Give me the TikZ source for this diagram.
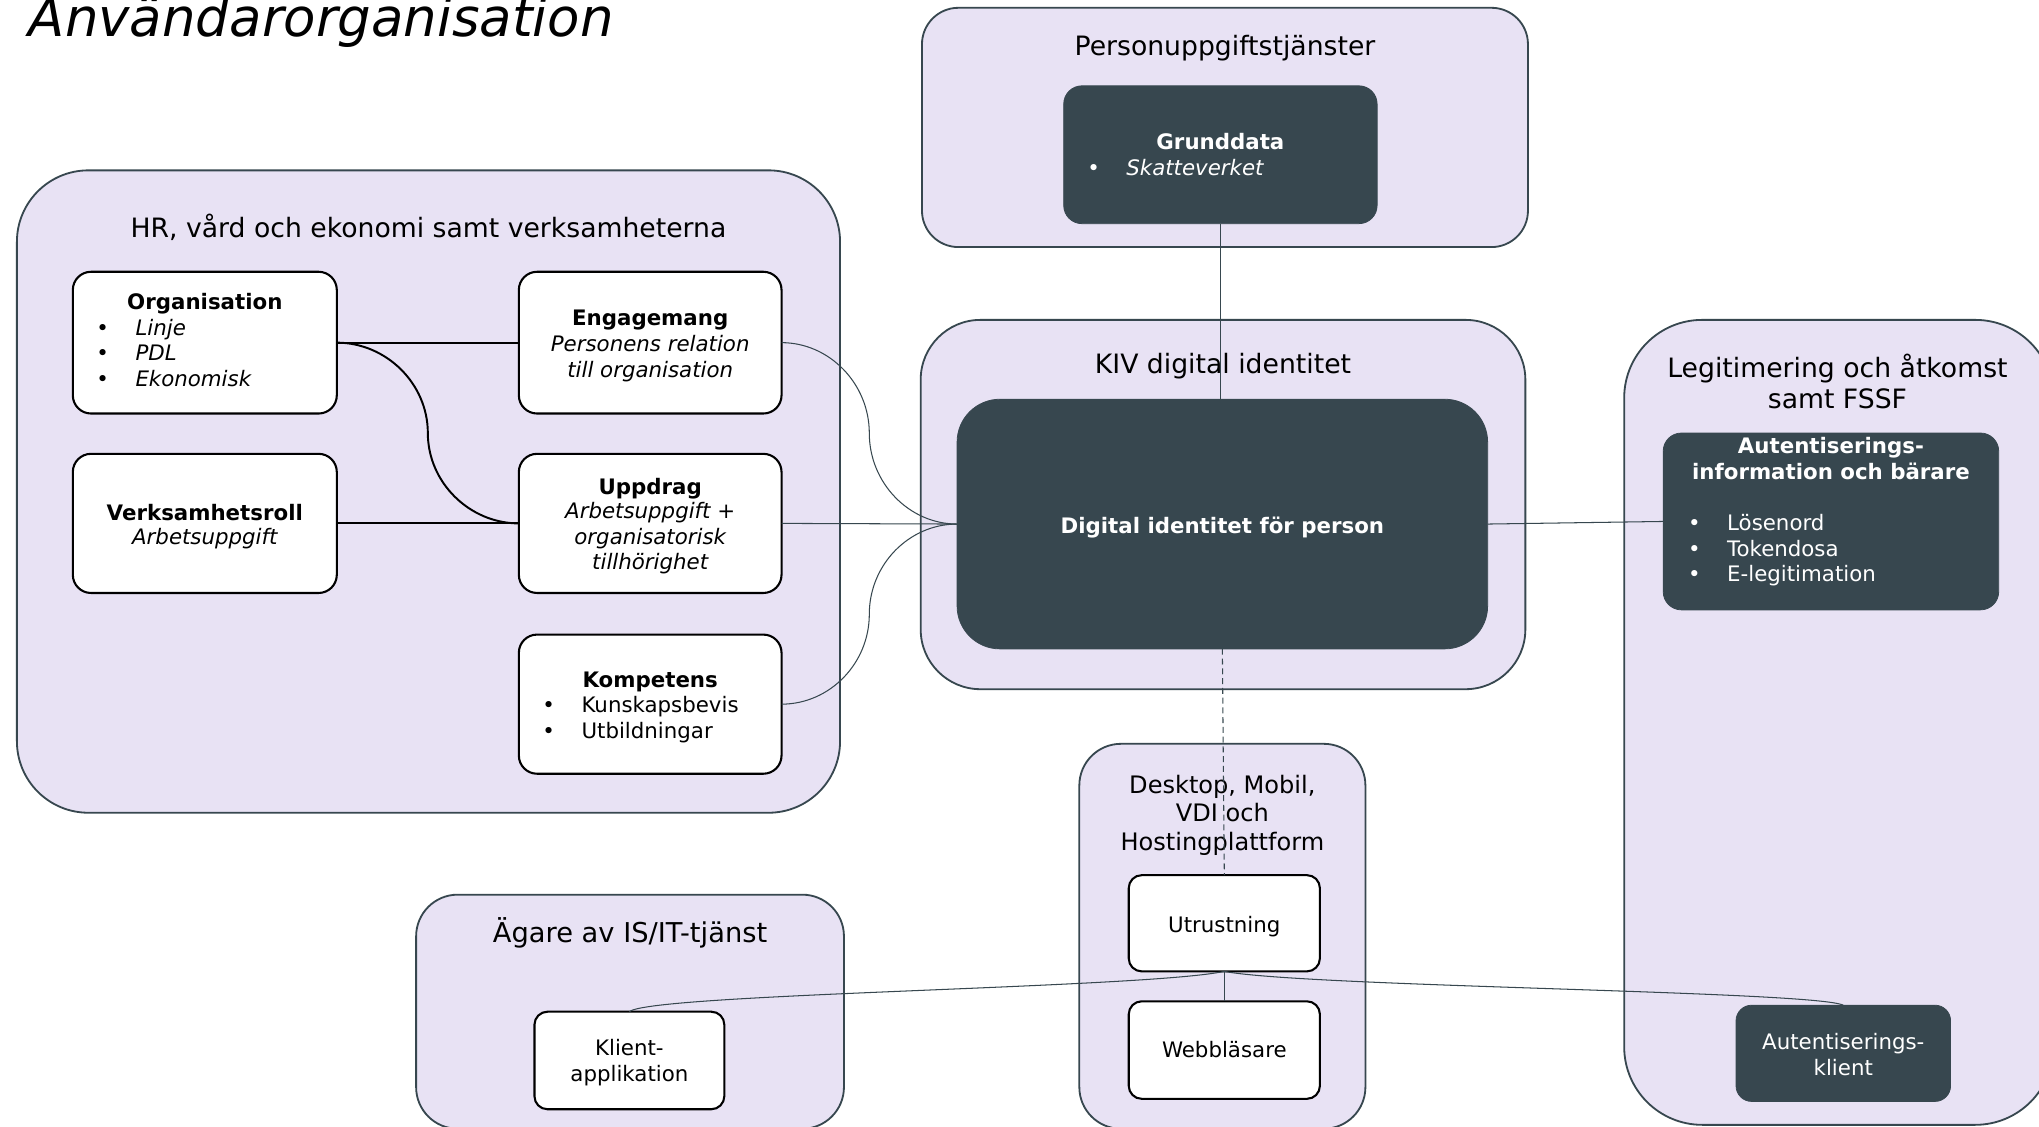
\documentclass[tikz,border=0pt]{standalone}
\usepackage{fontspec}
\setmainfont{DejaVu Sans}
\usetikzlibrary{calc}
\definecolor{lav}{HTML}{E8E2F4}
\definecolor{slate}{HTML}{37474F}

\tikzset{
  group/.style={draw=slate, fill=lav, line width=1.4pt, inner sep=0pt, outer sep=0pt},
  wbox/.style={draw=black, fill=white, line width=1.6pt, rounded corners=12pt, inner sep=0pt, outer sep=0pt},
  dbox/.style={fill=slate, draw=slate, line width=0.6pt, rounded corners=14pt, inner sep=0pt, outer sep=0pt},
  gtitle/.style={anchor=base, font=\fontsize{20.5}{24}\selectfont, inner sep=0pt},
  btxt/.style={anchor=base, font=\fontsize{16.4}{19.5}\selectfont, inner sep=0pt},
  ltxt/.style={anchor=base west, font=\fontsize{16.4}{19.5}\selectfont, inner sep=0pt},
  link/.style={draw=slate, line width=0.8pt},
  blink/.style={draw=black, line width=1.5pt},
}

\begin{document}
\begin{tikzpicture}[x=1pt,y=-1pt]
\useasboundingbox (0,0) rectangle (1568,866);
\clip (0,0) rectangle (1568,866);
\fill[white] (0,0) rectangle (1568,866);

% heading
\node[anchor=base west, inner sep=0pt, font=\fontsize{40.7}{48}\selectfont\itshape] (head) at (22,28) {Användarorganisation};

% groups
\node[group, rounded corners=55pt, minimum width=633pt, minimum height=494pt] (hr) at (329.5,378) {};
\node[group, rounded corners=28pt, minimum width=466pt, minimum height=184pt] (pers) at (942,98) {};
\node[group, rounded corners=46pt, minimum width=465pt, minimum height=284pt] (kiv) at (940.5,388) {};
\node[group, rounded corners=60pt, minimum width=330pt, minimum height=619pt] (legit) at (1414,555.5) {};
\node[group, rounded corners=32pt, minimum width=220pt, minimum height=296pt] (desk) at (940,720) {};
\node[group, rounded corners=32pt, minimum width=329pt, minimum height=180pt] (agare) at (484.5,778) {};

% group titles
\node[gtitle] (hrT) at (329.5,183) {HR, vård och ekonomi samt verksamheterna};
\node[gtitle] (persT) at (942,43) {Personuppgiftstjänster};
\node[gtitle] (kivT) at (940.5,287) {KIV digital identitet};
\node[gtitle] (legitT1) at (1413,290) {Legitimering och åtkomst};
\node[gtitle] (legitT2) at (1413,314) {samt FSSF};
\node[gtitle, font=\fontsize{18.5}{22}\selectfont] (deskT1) at (940,610) {Desktop, Mobil,};
\node[gtitle, font=\fontsize{18.5}{22}\selectfont] (deskT2) at (940,632) {VDI och};
\node[gtitle, font=\fontsize{18.5}{22}\selectfont] (deskT3) at (940,654) {Hostingplattform};
\node[gtitle, font=\fontsize{21}{25}\selectfont] (agareT) at (484.5,725) {Ägare av IS/IT-tjänst};

% white boxes
\node[wbox, rounded corners=14pt, minimum width=203pt, minimum height=109pt] (org) at (157.5,263.5) {};
\node[wbox, rounded corners=14pt, minimum width=203pt, minimum height=107pt] (ver) at (157.5,402.5) {};
\node[wbox, rounded corners=14pt, minimum width=202pt, minimum height=109pt] (eng) at (500,263.5) {};
\node[wbox, rounded corners=14pt, minimum width=202pt, minimum height=107pt] (upp) at (500,402.5) {};
\node[wbox, rounded corners=14pt, minimum width=202pt, minimum height=107pt] (komp) at (500,541.5) {};
\node[wbox, rounded corners=10pt, minimum width=147pt, minimum height=74pt] (utr) at (941.5,710) {};
\node[wbox, rounded corners=10pt, minimum width=147pt, minimum height=75pt] (web) at (941.5,807.5) {};
\node[wbox, rounded corners=10pt, minimum width=146pt, minimum height=75pt] (klient) at (484,815.5) {};

% dark boxes
\node[dbox, minimum width=241pt, minimum height=106pt] (grund) at (938.5,119) {};
\node[dbox, rounded corners=33pt, minimum width=408pt, minimum height=192pt] (di) at (940,403) {};
\node[dbox, minimum width=258pt, minimum height=136pt] (auth) at (1408,401) {};
\node[dbox, rounded corners=12pt, minimum width=165pt, minimum height=74pt] (aklient) at (1417.5,810) {};

% texts: Organisation
\node[btxt, font=\fontsize{16.4}{19.5}\selectfont\bfseries] (orgT) at (157.5,238) {Organisation};
\node[btxt] (orgB1) at (79,258) {•};
\node[btxt] (orgB2) at (79,277) {•};
\node[btxt] (orgB3) at (79,297) {•};
\node[ltxt, font=\fontsize{16.4}{19.5}\selectfont\itshape] (orgL1) at (104,258) {Linje};
\node[ltxt, font=\fontsize{16.4}{19.5}\selectfont\itshape] (orgL2) at (104,277) {PDL};
\node[ltxt, font=\fontsize{16.4}{19.5}\selectfont\itshape] (orgL3) at (104,297) {Ekonomisk};

% Verksamhetsroll
\node[btxt, font=\fontsize{16.4}{19.5}\selectfont\bfseries] (verT) at (157.5,400) {Verksamhetsroll};
\node[btxt, font=\fontsize{16.4}{19.5}\selectfont\itshape] (verL) at (157.5,419) {Arbetsuppgift};

% Engagemang
\node[btxt, font=\fontsize{16.4}{19.5}\selectfont\bfseries] (engT) at (500,250) {Engagemang};
\node[btxt, font=\fontsize{16.4}{19.5}\selectfont\itshape] (engL1) at (500,270) {Personens relation};
\node[btxt, font=\fontsize{16.4}{19.5}\selectfont\itshape] (engL2) at (500,290) {till organisation};

% Uppdrag
\node[btxt, font=\fontsize{16.4}{19.5}\selectfont\bfseries] (uppT) at (500,380) {Uppdrag};
\node[btxt, font=\fontsize{16.4}{19.5}\selectfont\itshape] (uppL1) at (500,399) {Arbetsuppgift +};
\node[btxt, font=\fontsize{16.4}{19.5}\selectfont\itshape] (uppL2) at (500,419) {organisatorisk};
\node[btxt, font=\fontsize{16.4}{19.5}\selectfont\itshape] (uppL3) at (500,438) {tillhörighet};

% Kompetens
\node[btxt, font=\fontsize{16.4}{19.5}\selectfont\bfseries] (kompT) at (500,529) {Kompetens};
\node[btxt] (kompB1) at (422,548) {•};
\node[btxt] (kompB2) at (422,568) {•};
\node[ltxt] (kompL1) at (447,548) {Kunskapsbevis};
\node[ltxt] (kompL2) at (447,568) {Utbildningar};

% Grunddata
\node[btxt, text=white, font=\fontsize{16.4}{19.5}\selectfont\bfseries] (grundT) at (938.5,115) {Grunddata};
\node[btxt, text=white] (grundB) at (841,135) {•};
\node[ltxt, text=white, font=\fontsize{16.4}{19.5}\selectfont\itshape] (grundL) at (866,135) {Skatteverket};

% Digital identitet
\node[btxt, text=white, font=\fontsize{16.4}{19.5}\selectfont\bfseries] (diT) at (940,410) {Digital identitet för person};

% Autentiseringsinformation
\node[btxt, text=white, font=\fontsize{16.4}{19.5}\selectfont\bfseries] (authT1) at (1408,349) {Autentiserings-};
\node[btxt, text=white, font=\fontsize{16.4}{19.5}\selectfont\bfseries] (authT2) at (1408,369) {information och bärare};
\node[btxt, text=white] (authB1) at (1303,408) {•};
\node[btxt, text=white] (authB2) at (1303,428) {•};
\node[btxt, text=white] (authB3) at (1303,447) {•};
\node[ltxt, text=white] (authL1) at (1328,408) {Lösenord};
\node[ltxt, text=white] (authL2) at (1328,428) {Tokendosa};
\node[ltxt, text=white] (authL3) at (1328,447) {E-legitimation};

% small boxes
\node[btxt] (utrT) at (941.5,717) {Utrustning};
\node[btxt] (webT) at (941.5,813) {Webbläsare};
\node[btxt] (klientT1) at (484,812) {Klient-};
\node[btxt] (klientT2) at (484,832) {applikation};
\node[btxt, text=white] (aklientT1) at (1417.5,807) {Autentiserings-};
\node[btxt, text=white] (aklientT2) at (1417.5,827) {klient};

% connectors inside the HR group
\coordinate (m3) at ($(org.east)!0.5!(upp.west)$);
\draw[blink] (org.east) -- (eng.west);
\draw[blink] (ver.east) -- (upp.west);
\draw[blink] (org.east) .. controls +(38,0) and +(0,-38) .. (m3)
                        .. controls +(0,38) and +(-38,0) .. (upp.west);

% connectors to the digital identity
\coordinate (m1) at ($(eng.east)!0.5!(di.west)$);
\coordinate (m2) at ($(komp.east)!0.5!(di.west)$);
\draw[link] (eng.east) .. controls +(37,0) and +(0,-38) .. (m1)
                       .. controls +(0,38) and +(-37,0) .. (di.west);
\draw[link] (komp.east) .. controls +(37,0) and +(0,38) .. (m2)
                        .. controls +(0,-38) and +(-37,0) .. (di.west);
\draw[link] (upp.east) -- (di.west);
\draw[link] (grund.south) -- (grund.south |- di.north);
\draw[link] (di.east) -- (auth.west);
\draw[link, dash pattern=on 4.5pt off 3pt] (di.south) -- (utr.north);

% connectors from the equipment
\draw[link] (utr.south) -- (web.north);
\draw[link] (utr.south) .. controls (880,760) and (500,764) .. (klient.north);
\draw[link] (utr.south) .. controls (1005,759) and (1395,762) .. (aklient.north);
\end{tikzpicture}
\end{document}
